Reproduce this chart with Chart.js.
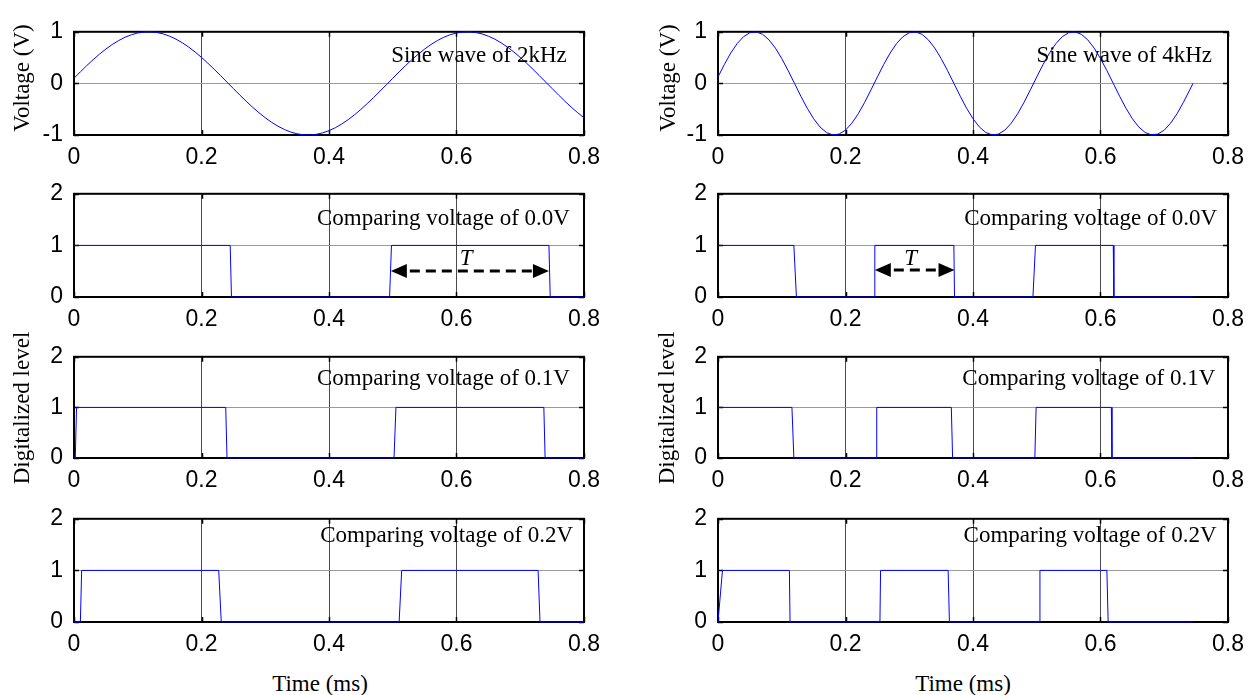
<!DOCTYPE html>
<html>
<head>
<meta charset="utf-8">
<script src="https://cdn.jsdelivr.net/npm/chart.js@4.4.0/dist/chart.umd.min.js"></script>
<style>
  html, body { margin: 0; padding: 0; background: #fff; overflow: hidden; }
  #fig { position: relative; width: 1256px; height: 695px; overflow: hidden; background: #fff; }
  #fig canvas { position: absolute; }
  .axis-title {
    position: absolute;
    font-family: "Liberation Serif", "Times New Roman", serif;
    font-size: 23px; line-height: 1; color: #000; white-space: nowrap;
  }
  .axis-title.vertical { transform: translate(-50%, -50%) rotate(-90deg); }
  .axis-title.horizontal { transform: translate(-50%, -50%); }
</style>
</head>
<body>
<div id="fig"></div>
<script>
// ---------------- data ----------------
// 2 kHz sine, sampled every 0.01 ms (time in ms, voltage in V)
const sine2kTime = [
  0.00,0.01,0.02,0.03,0.04,0.05,0.06,0.07,0.08,0.09,
  0.10,0.11,0.12,0.13,0.14,0.15,0.16,0.17,0.18,0.19,
  0.20,0.21,0.22,0.23,0.24,0.25,0.26,0.27,0.28,0.29,
  0.30,0.31,0.32,0.33,0.34,0.35,0.36,0.37,0.38,0.39,
  0.40,0.41,0.42,0.43,0.44,0.45,0.46,0.47,0.48,0.49,
  0.50,0.51,0.52,0.53,0.54,0.55,0.56,0.57,0.58,0.59,
  0.60,0.61,0.62,0.63,0.64,0.65,0.66,0.67,0.68,0.69,
  0.70,0.71,0.72,0.73,0.74,0.75,0.76,0.77,0.78,0.79,
  0.80
];
const sine2kVolts = [
  0.100,0.224,0.345,0.460,0.567,0.666,0.754,0.830,0.894,0.943,
  0.977,0.996,0.999,0.987,0.959,0.915,0.858,0.787,0.703,0.608,
  0.504,0.391,0.273,0.150,0.025,-0.100,-0.224,-0.345,-0.460,-0.567,
  -0.666,-0.754,-0.830,-0.894,-0.943,-0.977,-0.996,-0.999,-0.987,-0.959,
  -0.915,-0.858,-0.787,-0.703,-0.608,-0.504,-0.391,-0.273,-0.150,-0.025,
  0.100,0.224,0.345,0.460,0.567,0.666,0.754,0.830,0.894,0.943,
  0.977,0.996,0.999,0.987,0.959,0.915,0.858,0.787,0.703,0.608,
  0.504,0.391,0.273,0.150,0.025,-0.100,-0.224,-0.345,-0.460,-0.567,
  -0.666
];

// 4 kHz sine, sampled every 0.01 ms up to 0.745 ms
const sine4kTime = [
  0.00,0.01,0.02,0.03,0.04,0.05,0.06,0.07,0.08,0.09,
  0.10,0.11,0.12,0.13,0.14,0.15,0.16,0.17,0.18,0.19,
  0.20,0.21,0.22,0.23,0.24,0.25,0.26,0.27,0.28,0.29,
  0.30,0.31,0.32,0.33,0.34,0.35,0.36,0.37,0.38,0.39,
  0.40,0.41,0.42,0.43,0.44,0.45,0.46,0.47,0.48,0.49,
  0.50,0.51,0.52,0.53,0.54,0.55,0.56,0.57,0.58,0.59,
  0.60,0.61,0.62,0.63,0.64,0.65,0.66,0.67,0.68,0.69,
  0.70,0.71,0.72,0.73,0.74,0.745
];
const sine4kVolts = [
  0.125,0.368,0.588,0.771,0.905,0.982,0.998,0.951,0.844,0.685,
  0.482,0.249,0.000,-0.249,-0.482,-0.685,-0.844,-0.951,-0.998,-0.982,
  -0.905,-0.771,-0.588,-0.368,-0.125,
  0.125,0.368,0.588,0.771,0.905,0.982,0.998,0.951,0.844,0.685,
  0.482,0.249,0.000,-0.249,-0.482,-0.685,-0.844,-0.951,-0.998,-0.982,
  -0.905,-0.771,-0.588,-0.368,-0.125,
  0.125,0.368,0.588,0.771,0.905,0.982,0.998,0.951,0.844,0.685,
  0.482,0.249,0.000,-0.249,-0.482,-0.685,-0.844,-0.951,-0.998,-0.982,
  -0.905,-0.771,-0.588,-0.368,-0.125,0.000
];

// Comparator outputs (edge times in ms, digital level)
const cmp2k00Time  = [0, 0.245, 0.247, 0.495, 0.498, 0.745, 0.747, 0.8];
const cmp2k00Level = [1, 1, 0, 0, 1, 1, 0, 0];
const cmp2k01Time  = [0, 0.002, 0.004, 0.238, 0.240, 0.502, 0.505, 0.737, 0.739, 0.8];
const cmp2k01Level = [0, 0, 1, 1, 0, 0, 1, 1, 0, 0];
const cmp2k02Time  = [0, 0.010, 0.012, 0.227, 0.231, 0.510, 0.514, 0.728, 0.731, 0.8];
const cmp2k02Level = [0, 0, 1, 1, 0, 0, 1, 1, 0, 0];

const cmp4k00Time  = [0, 0.119, 0.123, 0.245, 0.246, 0.370, 0.371, 0.494, 0.498, 0.620, 0.621, 0.745];
const cmp4k00Level = [1, 1, 0, 0, 1, 1, 0, 0, 1, 1, 0, 0];
const cmp4k01Time  = [0, 0.116, 0.119, 0.248, 0.249, 0.366, 0.368, 0.497, 0.499, 0.617, 0.618, 0.745];
const cmp4k01Level = [1, 1, 0, 0, 1, 1, 0, 0, 1, 1, 0, 0];
const cmp4k02Time  = [0, 0.001, 0.007, 0.112, 0.113, 0.254, 0.255, 0.361, 0.363, 0.504, 0.505, 0.610, 0.612, 0.745];
const cmp4k02Level = [0, 0, 1, 1, 0, 0, 1, 1, 0, 0, 1, 1, 0, 0];

// One period T marked on the 0.0 V comparator outputs (ms)
const period2k = [0.497, 0.745];
const period4k = [0.246, 0.371];

// Tick values and labels
const timeTickValues  = [0, 0.2, 0.4, 0.6, 0.8];
const timeTickLabels  = ['0', '0.2', '0.4', '0.6', '0.8'];
const voltTickValues  = [-1, 0, 1];
const voltTickLabels  = ['-1', '0', '1'];
const levelTickValues = [0, 1, 2];
const levelTickLabels = ['0', '1', '2'];

// Panel captions
const captions2k = ['Sine wave of 2kHz', 'Comparing voltage of 0.0V', 'Comparing voltage of 0.1V', 'Comparing voltage of 0.2V'];
const captions4k = ['Sine wave of 4kHz', 'Comparing voltage of 0.0V', 'Comparing voltage of 0.1V', 'Comparing voltage of 0.2V'];

// ---------------- layout & style ----------------
const COL_LEFT = [74, 718];
const PLOT_W = 510;
const ROW_TOP = [22, 184, 347, 509];
const ROW_H = [113, 113, 111, 113];
const PAD_TOP = 15, PAD_RIGHT = 26, AXIS_W = 70, AXIS_H = 40;

const TICK_FONT = { family: '"Liberation Sans", Arial, sans-serif', size: 23 };
const TEXT_FONT = '23px "Liberation Serif", "Times New Roman", serif';
const TRACE_COLOR = '#0000ff';

// caption anchor (right edge, baseline) in data units, per row
const CAPTION_POS = [
  [{ x: 0.773, y: 0.416 }, { x: 0.775, y: 0.416 }],
  [{ x: 0.778, y: 1.40 },  { x: 0.783, y: 1.40 }],
  [{ x: 0.778, y: 1.44 },  { x: 0.780, y: 1.44 }],
  [{ x: 0.783, y: 1.55 },  { x: 0.782, y: 1.55 }]
];
const ARROW_LEVEL = [0.5, 0.52];
const T_LABEL_POS = [{ x: 0.615, y: 0.62 }, { x: 0.302, y: 0.62 }];

const panels = [
  { col: 0, row: 0, t: sine2kTime,  v: sine2kVolts,  volt: true },
  { col: 0, row: 1, t: cmp2k00Time, v: cmp2k00Level, period: period2k },
  { col: 0, row: 2, t: cmp2k01Time, v: cmp2k01Level },
  { col: 0, row: 3, t: cmp2k02Time, v: cmp2k02Level },
  { col: 1, row: 0, t: sine4kTime,  v: sine4kVolts,  volt: true },
  { col: 1, row: 1, t: cmp4k00Time, v: cmp4k00Level, period: period4k },
  { col: 1, row: 2, t: cmp4k01Time, v: cmp4k01Level },
  { col: 1, row: 3, t: cmp4k02Time, v: cmp4k02Level }
];

// ---------------- plugins ----------------
// MATLAB-style box with inward tick marks on all four sides
const boxPlugin = {
  id: 'boxFrame',
  beforeDatasetsDraw(chart) {
    const { ctx, chartArea: a, scales: { x, y } } = chart;
    const len = 5;
    ctx.save();
    ctx.strokeStyle = '#000';
    ctx.lineWidth = 1.5;
    ctx.beginPath();
    x.ticks.forEach(t => {
      const px = Math.round(x.getPixelForValue(t.value)) + 0.5;
      ctx.moveTo(px, a.top); ctx.lineTo(px, a.top + len);
      ctx.moveTo(px, a.bottom); ctx.lineTo(px, a.bottom - len);
    });
    y.ticks.forEach(t => {
      const py = Math.round(y.getPixelForValue(t.value)) + 0.5;
      ctx.moveTo(a.left, py); ctx.lineTo(a.left + len, py);
      ctx.moveTo(a.right, py); ctx.lineTo(a.right - len, py);
    });
    ctx.stroke();
    ctx.lineWidth = 2;
    ctx.strokeRect(a.left, a.top, a.right - a.left, a.bottom - a.top);
    ctx.restore();
  }
};

// Caption text and the period arrow
const notePlugin = {
  id: 'panelNotes',
  afterDatasetsDraw(chart, args, opts) {
    const { ctx, scales: { x, y } } = chart;
    ctx.save();
    ctx.fillStyle = '#000';
    ctx.font = TEXT_FONT;
    ctx.textAlign = 'right';
    ctx.textBaseline = 'alphabetic';
    ctx.fillText(opts.caption, x.getPixelForValue(opts.captionPos.x), y.getPixelForValue(opts.captionPos.y));

    if (opts.period) {
      const x1 = x.getPixelForValue(opts.period[0]);
      const x2 = x.getPixelForValue(opts.period[1]);
      const py = Math.round(y.getPixelForValue(opts.arrowLevel));
      const head = 16, half = 7;
      ctx.strokeStyle = '#000';
      ctx.lineWidth = 3;
      ctx.setLineDash([10, 6]);
      ctx.beginPath();
      ctx.moveTo(x1 + head + 3, py);
      ctx.lineTo(x2 - head - 1, py);
      ctx.stroke();
      ctx.setLineDash([]);
      ctx.beginPath();
      ctx.moveTo(x1, py); ctx.lineTo(x1 + head, py - half); ctx.lineTo(x1 + head, py + half); ctx.closePath();
      ctx.moveTo(x2, py); ctx.lineTo(x2 - head, py - half); ctx.lineTo(x2 - head, py + half); ctx.closePath();
      ctx.fill();
      ctx.font = 'italic ' + TEXT_FONT;
      ctx.textAlign = 'center';
      ctx.fillText('T', x.getPixelForValue(opts.tPos.x), y.getPixelForValue(opts.tPos.y));
    }
    ctx.restore();
  }
};

// ---------------- build ----------------
const fig = document.getElementById('fig');

panels.forEach(p => {
  const w = PLOT_W + AXIS_W + PAD_RIGHT;
  const h = ROW_H[p.row] + PAD_TOP + AXIS_H;
  const canvas = document.createElement('canvas');
  canvas.width = w; canvas.height = h;
  canvas.style.width = w + 'px'; canvas.style.height = h + 'px';
  canvas.style.left = (COL_LEFT[p.col] - AXIS_W) + 'px';
  canvas.style.top = (ROW_TOP[p.row] - PAD_TOP) + 'px';
  fig.appendChild(canvas);

  const yVals = p.volt ? voltTickValues : levelTickValues;
  const yLabs = p.volt ? voltTickLabels : levelTickLabels;
  const lastX = timeTickValues.length - 1;

  new Chart(canvas, {
    type: 'line',
    data: {
      datasets: [{
        data: p.t.map((t, i) => ({ x: t, y: p.v[i] })),
        borderColor: TRACE_COLOR,
        borderWidth: 1,
        pointRadius: 0,
        tension: 0,
        fill: false,
        clip: 3
      }]
    },
    options: {
      responsive: false,
      animation: false,
      devicePixelRatio: 1,
      events: [],
      layout: { padding: { top: PAD_TOP, right: PAD_RIGHT, left: 0, bottom: 0 } },
      plugins: {
        legend: { display: false },
        tooltip: { enabled: false },
        panelNotes: {
          caption: (p.col === 0 ? captions2k : captions4k)[p.row],
          captionPos: CAPTION_POS[p.row][p.col],
          period: p.period || null,
          arrowLevel: ARROW_LEVEL[p.col],
          tPos: T_LABEL_POS[p.col]
        }
      },
      scales: {
        x: {
          type: 'linear',
          min: 0, max: 0.8,
          afterFit(s) { s.height = AXIS_H; },
          afterBuildTicks(s) { s.ticks = timeTickValues.map(v => ({ value: v })); },
          ticks: {
            autoSkip: false, maxRotation: 0, minRotation: 0,
            padding: 9, color: '#000', font: TICK_FONT,
            callback: (v, i) => timeTickLabels[i]
          },
          grid: {
            drawTicks: false,
            lineWidth: 1,
            color: c => (c.index === 0 || c.index === lastX) ? 'rgba(0,0,0,0)' : '#4a4a4a'
          },
          border: { display: false }
        },
        y: {
          type: 'linear',
          min: yVals[0], max: yVals[yVals.length - 1],
          afterFit(s) { s.width = AXIS_W; },
          afterBuildTicks(s) { s.ticks = yVals.map(v => ({ value: v })); },
          ticks: {
            padding: 11, color: '#000', font: TICK_FONT,
            callback: (v, i) => yLabs[i]
          },
          grid: {
            drawTicks: false,
            lineWidth: 1,
            color: c => c.index === 1 ? '#9a9a9a' : 'rgba(0,0,0,0)'
          },
          border: { display: false }
        }
      }
    },
    plugins: [boxPlugin, notePlugin]
  });
});

// Axis titles
const titles = [
  { text: 'Voltage (V)', x: 21, y: 78, vertical: true },
  { text: 'Voltage (V)', x: 667, y: 78, vertical: true },
  { text: 'Digitalized level', x: 21, y: 408, vertical: true },
  { text: 'Digitalized level', x: 666, y: 408, vertical: true },
  { text: 'Time (ms)', x: 320, y: 683, vertical: false },
  { text: 'Time (ms)', x: 963, y: 683, vertical: false }
];
titles.forEach(t => {
  const d = document.createElement('div');
  d.className = 'axis-title ' + (t.vertical ? 'vertical' : 'horizontal');
  d.textContent = t.text;
  d.style.left = t.x + 'px';
  d.style.top = t.y + 'px';
  fig.appendChild(d);
});
</script>
</body>
</html>
